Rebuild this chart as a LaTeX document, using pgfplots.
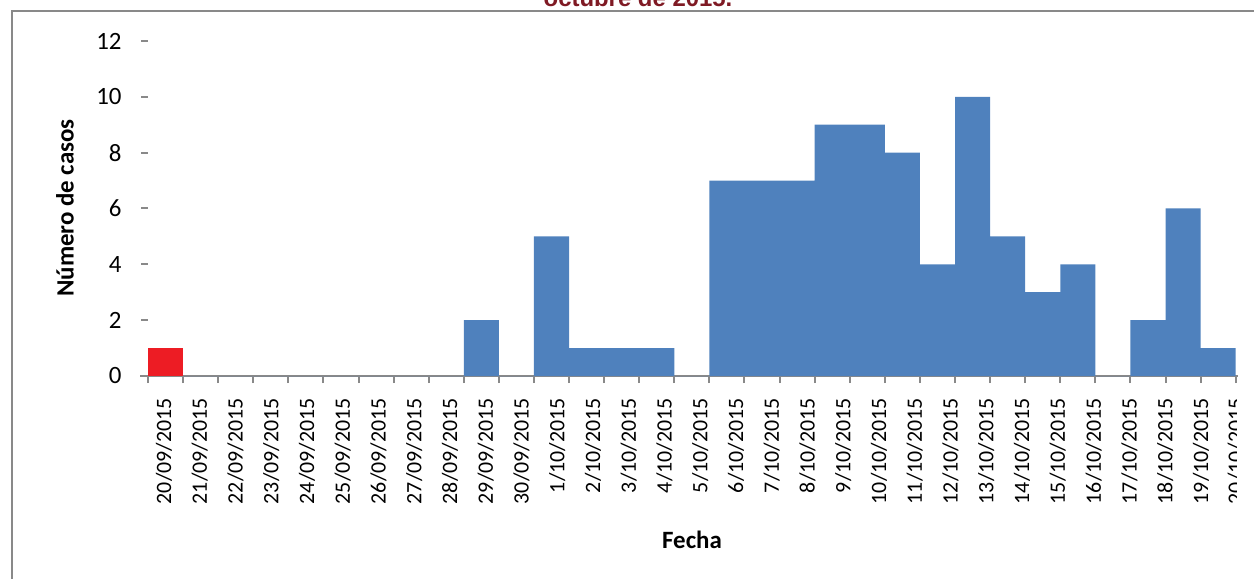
\documentclass[border=0pt]{standalone}
\usepackage{fontspec}
\setmainfont{Carlito}
\newfontfamily\arialfont{Liberation Sans}
\usepackage{pgfplots}
\pgfplotsset{compat=1.18}
\definecolor{barblue}{HTML}{4F81BD}
\definecolor{barred}{HTML}{ED1C24}
\definecolor{framegray}{HTML}{898989}
\definecolor{titlered}{HTML}{7F1A24}
\begin{document}
\begin{tikzpicture}
\useasboundingbox (0,0) rectangle (627bp,289.5bp);
\draw[framegray, line width=1bp] (6bp,-3bp) -- (6bp,284bp) -- (632bp,284bp);
\node[anchor=base, font=\arialfont\bfseries\fontsize{12}{14}\selectfont, text=titlered, inner sep=0pt] at (319bp,286bp) {octubre de 2015.};
\begin{axis}[
  at={(74bp,101.5bp)}, anchor=south west,
  scale only axis, width=543.85bp, height=167.5bp,
  xmin=-0.5, xmax=30.5, ymin=0, ymax=12,
  ytick={0,2,...,12},
  xtick={-0.047,0.972,1.991,3.010,4.030,5.049,6.068,7.087,8.106,9.125,10.144,11.163,12.182,13.201,14.220,15.240,16.259,17.278,18.297,19.316,20.335,21.354,22.373,23.392,24.411,25.431,26.450,27.469,28.488,29.507,30.499},
  xticklabels={20/09/2015,21/09/2015,22/09/2015,23/09/2015,24/09/2015,25/09/2015,26/09/2015,27/09/2015,28/09/2015,29/09/2015,30/09/2015,1/10/2015,2/10/2015,3/10/2015,4/10/2015,5/10/2015,6/10/2015,7/10/2015,8/10/2015,9/10/2015,10/10/2015,11/10/2015,12/10/2015,13/10/2015,14/10/2015,15/10/2015,16/10/2015,17/10/2015,18/10/2015,19/10/2015,20/10/2015},
  minor xtick={-0.5,0.5,...,30.5},
  separate axis lines,
  axis x line*=bottom, axis y line*=left,
  x axis line style={framegray, line width=1bp, shorten <=-4bp, shorten >=-1bp},
  y axis line style={draw=none},
  tick align=outside,
  every major x tick/.append style={draw=none},
  every minor x tick/.append style={framegray, line width=1bp},
  every major y tick/.append style={framegray, line width=1bp},
  major tick length=3.5bp, minor tick length=3.5bp,
  /pgf/number format/assume math mode=true,
  xticklabel style={yshift=-7.5bp, rotate=90, anchor=east, font=\fontsize{11}{13}\selectfont, inner sep=0pt},
  yticklabel style={font=\fontsize{12.5}{14}\selectfont, inner sep=0pt, xshift=-9.5bp},
  clip=false,
]
\addplot[ybar, bar width=1, bar shift=0pt, fill=barred, draw=none] coordinates {(0,1)};
\addplot[ybar, bar width=1, bar shift=0pt, fill=barblue, draw=none] coordinates {
(1,0) (2,0) (3,0) (4,0) (5,0) (6,0) (7,0) (8,0) (9,2) (10,0)
(11,5) (12,1) (13,1) (14,1) (15,0) (16,7) (17,7) (18,7) (19,9) (20,9)
(21,8) (22,4) (23,10) (24,5) (25,3) (26,4) (27,0) (28,2) (29,6) (30,1)};
\end{axis}
\fill[white] (618.5bp,0bp) rectangle (632bp,99bp);
\node[font=\bfseries\fontsize{12.5}{15}\selectfont] at (346bp,19.5bp) {Fecha};
\node[font=\bfseries\fontsize{12.5}{15}\selectfont, rotate=90] at (32.5bp,185.5bp) {Número de casos};
\end{tikzpicture}
\end{document}
